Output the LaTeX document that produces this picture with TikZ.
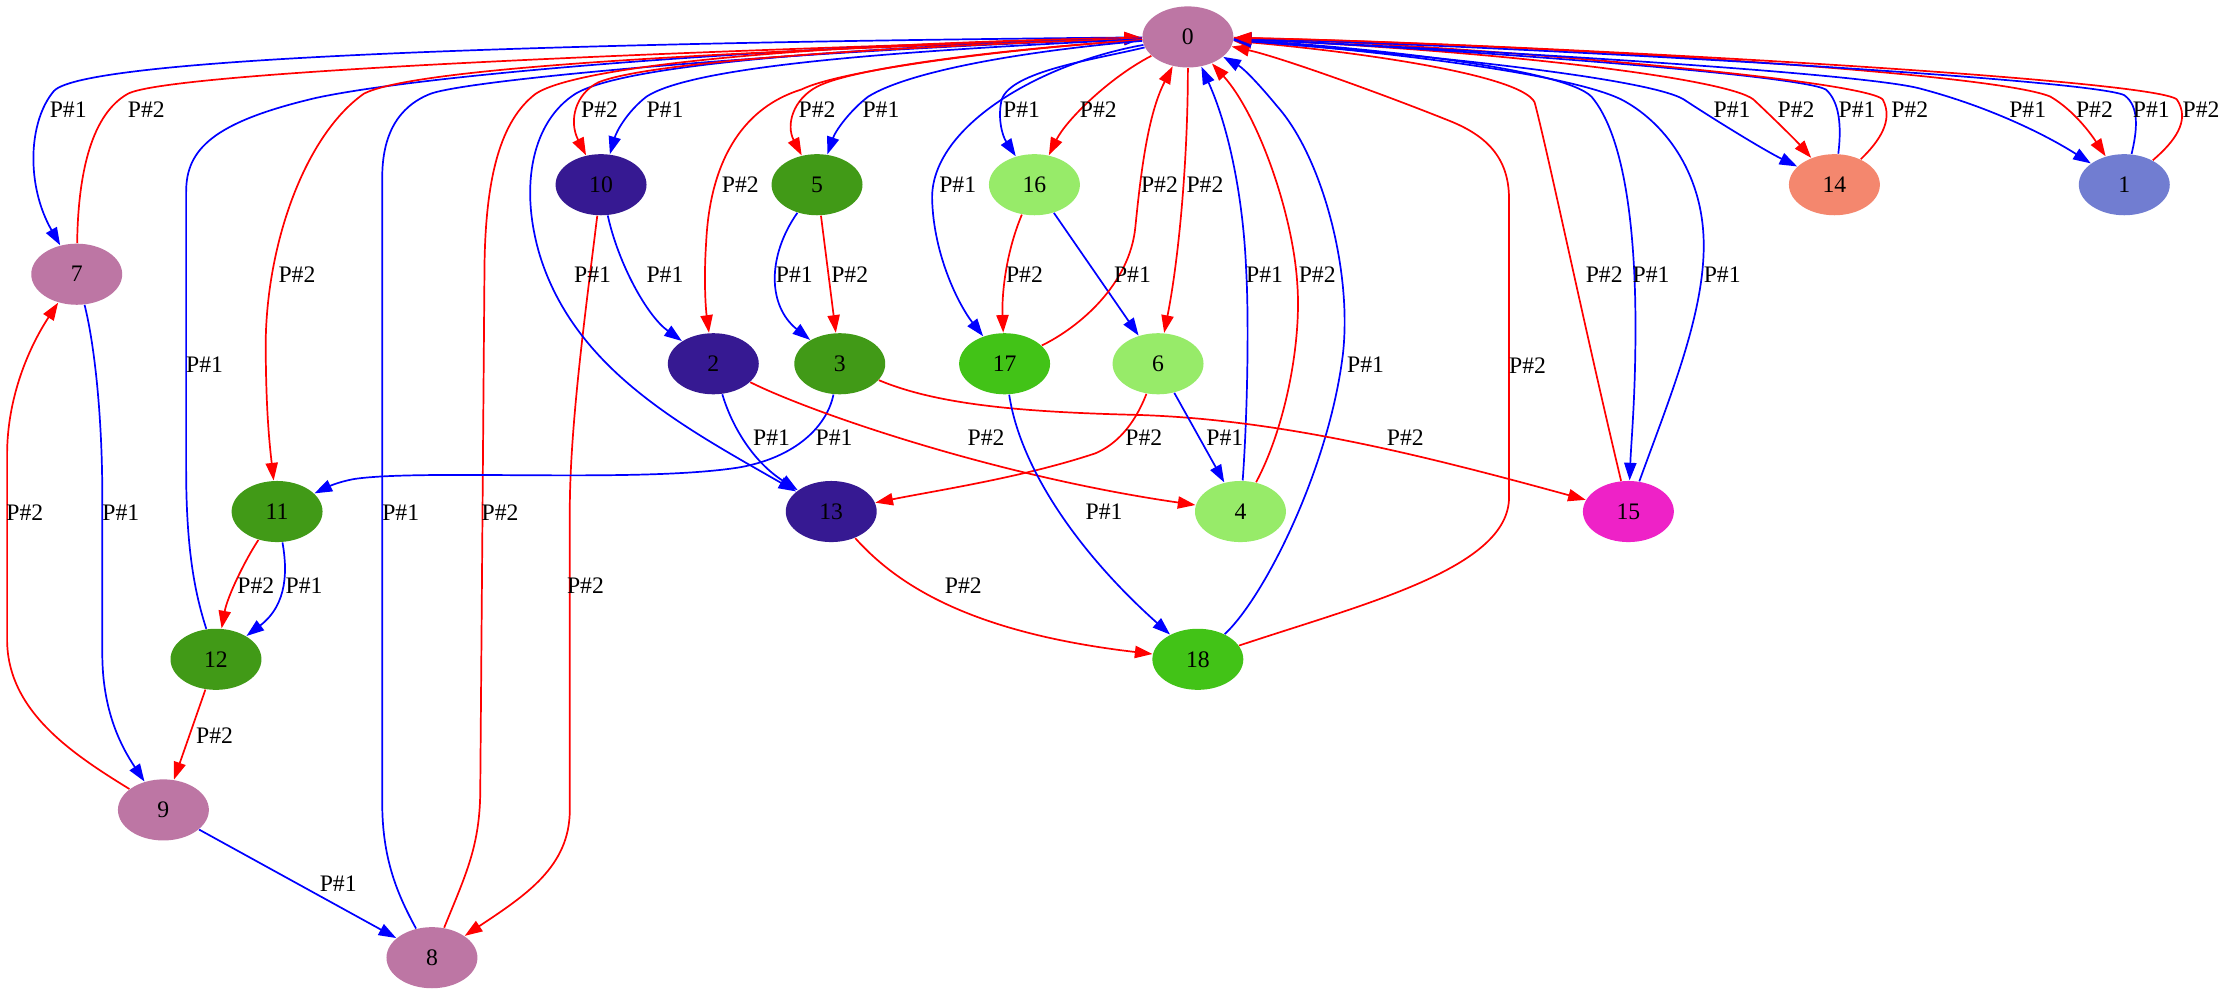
\documentclass[tikz,border=0pt]{standalone}
\usepackage{fontspec}
\setmainfont{Liberation Serif}
\usetikzlibrary{arrows.meta,shapes.geometric}
\definecolor{cmauve}{RGB}{189,118,164}
\definecolor{cindigo}{RGB}{54,25,146}
\definecolor{cgreen}{RGB}{65,154,23}
\definecolor{clight}{RGB}{151,235,105}
\definecolor{cbright}{RGB}{66,195,23}
\definecolor{csalmon}{RGB}{244,135,110}
\definecolor{cperi}{RGB}{113,125,209}
\definecolor{cmagenta}{RGB}{238,34,199}
\tikzset{
  gnode/.style={ellipse, minimum width=32pt, minimum height=21.5pt, inner sep=0pt, font=\fontsize{8.33}{10}\selectfont},
  eb/.style={draw=blue, line width=0.6pt, -{Triangle[length=6.2pt,width=4.3pt]}},
  er/.style={draw=red, line width=0.6pt, -{Triangle[length=6.2pt,width=4.3pt]}},
  lbl/.style={font=\fontsize{8.33}{10}\selectfont, inner sep=0pt},
}
\begin{document}
\begin{tikzpicture}[x=0.5pt,y=-0.5pt]
\fill[white] (0,0) rectangle (1568,699);
\useasboundingbox (0,0) rectangle (1568,699);
% nodes
\node[gnode, fill=cmauve] (n0) at (836,26) {0};
\node[gnode, fill=cmauve] (n7) at (54,193) {7};
\node[gnode, fill=cindigo] (n10) at (423,130) {10};
\node[gnode, fill=cgreen] (n5) at (575,130) {5};
\node[gnode, fill=clight] (n16) at (728,130) {16};
\node[gnode, fill=csalmon] (n14) at (1291,130) {14};
\node[gnode, fill=cperi] (n1) at (1495,130) {1};
\node[gnode, fill=cindigo] (n2) at (502,256) {2};
\node[gnode, fill=cgreen] (n3) at (591,256) {3};
\node[gnode, fill=cbright] (n17) at (707,256) {17};
\node[gnode, fill=clight] (n6) at (815,256) {6};
\node[gnode, fill=cgreen] (n11) at (195,360) {11};
\node[gnode, fill=cindigo] (n13) at (585,360) {13};
\node[gnode, fill=clight] (n4) at (873,360) {4};
\node[gnode, fill=cmagenta] (n15) at (1146,360) {15};
\node[gnode, fill=cgreen] (n12) at (152,464) {12};
\node[gnode, fill=cbright] (n18) at (843,464) {18};
\node[gnode, fill=cmauve] (n9) at (115,570) {9};
\node[gnode, fill=cmauve] (n8) at (304,674) {8};
% edges
\draw[eb] (n0) .. controls (400,30) and (60,40) .. (38,64) .. controls (20,85) and (18,130) .. (n7);
\draw[er] (n7) .. controls (55,120) and (65,80) .. (90,66) .. controls (120,50) and (500,35) .. (n0);
\draw[eb] (n12) .. controls (138,420) and (131,390) .. (131,330) -- (131,135) .. controls (131,105) and (150,86) .. (222,69) .. controls (300,52) and (550,32) .. (n0);
\draw[er] (n0) .. controls (500,36) and (290,48) .. (256,66) .. controls (215,95) and (188,170) .. (187,240) .. controls (187,290) and (190,315) .. (n11);
\draw[eb] (n8) .. controls (280,630) and (269,605) .. (269,565) -- (269,125) .. controls (269,95) and (280,75) .. (303,66) .. controls (330,56) and (550,36) .. (n0);
\draw[er] (n8) .. controls (328,615) and (338,595) .. (338,555) -- (341,185) .. controls (342,125) and (352,85) .. (377,66) .. controls (410,44) and (600,30) .. (n0);
\draw[er] (n10) .. controls (412,220) and (401,300) .. (401,360) -- (401,570) .. controls (401,610) and (370,630) .. (n8);
\draw[eb] (n0) .. controls (600,33) and (440,45) .. (405,66) .. controls (375,85) and (365,130) .. (380,180) .. controls (405,260) and (480,300) .. (n13);
\draw[er] (n0) .. controls (650,32) and (460,42) .. (421,58) .. controls (405,66) and (400,85) .. (n10);
\draw[eb] (n0) .. controls (650,35) and (490,45) .. (455,68) .. controls (442,78) and (434,92) .. (n10);
\draw[eb] (n10) .. controls (435,185) and (455,222) .. (n2);
\draw[er] (n0) .. controls (700,35) and (590,50) .. (564,63) .. controls (525,75) and (500,110) .. (497,170) .. controls (495,200) and (497,220) .. (n2);
\draw[er] (n0) .. controls (700,35) and (600,48) .. (575,61) .. controls (558,70) and (553,88) .. (n5);
\draw[eb] (n0) .. controls (720,36) and (640,50) .. (611,68) .. controls (598,78) and (588,92) .. (n5);
\draw[eb] (n5) .. controls (540,180) and (540,215) .. (n3);
\draw[er] (n5) -- (n3);
\draw[eb] (n0) .. controls (730,45) and (655,90) .. (656,140) .. controls (657,180) and (675,215) .. (n17);
\draw[eb] (n0) .. controls (770,42) and (712,50) .. (705,70) .. controls (702,82) and (705,95) .. (n16);
\draw[er] (n0) .. controls (780,55) and (750,85) .. (n16);
\draw[er] (n16) .. controls (707,180) and (705,210) .. (n17);
\draw[eb] (n16) -- (n6);
\draw[er] (n17) .. controls (760,230) and (795,200) .. (799,160) .. controls (803,120) and (808,80) .. (n0);
\draw[er] (n0) .. controls (836,110) and (830,180) .. (n6);
\draw[eb] (n4) .. controls (878,290) and (879,225) .. (877,190) .. controls (875,140) and (865,90) .. (n0);
\draw[er] (n4) .. controls (905,300) and (916,240) .. (913,200) .. controls (910,150) and (885,80) .. (n0);
\draw[eb] (n18) .. controls (890,420) and (935,330) .. (945,250) .. controls (952,190) and (930,110) .. (899,75) .. controls (885,58) and (875,48) .. (n0);
\draw[er] (n18) .. controls (960,425) and (1062,400) .. (1062,350) -- (1062,140) .. controls (1062,110) and (1045,95) .. (1020,85) .. controls (970,65) and (900,40) .. (n0);
\draw[er] (n15) .. controls (1115,230) and (1090,110) .. (1080,72) .. controls (1070,52) and (950,36) .. (n0);
\draw[eb] (n0) .. controls (960,33) and (1100,48) .. (1120,68) .. controls (1143,95) and (1151,160) .. (1151,230) .. controls (1151,280) and (1148,310) .. (n15);
\draw[eb] (n15) .. controls (1175,280) and (1200,220) .. (1199,170) .. controls (1198,120) and (1170,85) .. (1141,70) .. controls (1100,50) and (950,34) .. (n0);
\draw[eb] (n0) .. controls (1000,38) and (1160,55) .. (1185,70) .. controls (1200,80) and (1240,105) .. (n14);
\draw[er] (n0) .. controls (1050,35) and (1215,55) .. (1234,70) .. controls (1250,85) and (1265,100) .. (n14);
\draw[eb] (n14) .. controls (1296,90) and (1295,72) .. (1285,63) .. controls (1265,52) and (1000,33) .. (n0);
\draw[er] (n14) .. controls (1322,100) and (1333,85) .. (1325,70) .. controls (1310,55) and (1000,30) .. (n0);
\draw[eb] (n0) .. controls (1000,33) and (1300,50) .. (1350,62) .. controls (1400,75) and (1440,95) .. (n1);
\draw[er] (n0) .. controls (1050,30) and (1400,50) .. (1443,68) .. controls (1460,78) and (1472,95) .. (n1);
\draw[eb] (n1) .. controls (1504,92) and (1506,75) .. (1495,67) .. controls (1470,55) and (1050,32) .. (n0);
\draw[er] (n1) .. controls (1530,100) and (1542,85) .. (1532,70) .. controls (1515,55) and (1050,30) .. (n0);
\draw[eb] (n3) .. controls (582,300) and (560,322) .. (520,329) .. controls (450,340) and (300,330) .. (250,337) .. controls (238,339) and (230,343) .. (n11);
\draw[eb] (n2) .. controls (515,300) and (530,325) .. (n13);
\draw[er] (n2) .. controls (570,290) and (700,335) .. (n4);
\draw[er] (n3) .. controls (660,285) and (720,290) .. (800,292) .. controls (900,295) and (1000,320) .. (n15);
\draw[er] (n6) .. controls (798,300) and (785,313) .. (771,319) .. controls (720,336) and (660,345) .. (n13);
\draw[eb] (n6) -- (n4);
\draw[eb] (n17) .. controls (718,330) and (760,390) .. (n18);
\draw[er] (n13) .. controls (630,410) and (680,445) .. (n18);
\draw[er] (n11) .. controls (172,395) and (160,420) .. (n12);
\draw[eb] (n11) .. controls (202,400) and (203,425) .. (n12);
\draw[er] (n12) -- (n9);
\draw[eb] (n7) .. controls (66,240) and (72,290) .. (72,350) -- (72,460) .. controls (72,500) and (85,525) .. (n9);
\draw[er] (n9) .. controls (50,530) and (5,500) .. (5,450) -- (5,320) .. controls (5,280) and (20,245) .. (n7);
\draw[eb] (n9) -- (n8);
% labels
\node[lbl] (l1) at (48,77) {P\#1};
\node[lbl] (l2) at (103,77) {P\#2};
\node[lbl] (l3) at (422,77) {P\#2};
\node[lbl] (l4) at (468,77) {P\#1};
\node[lbl] (l5) at (575,77) {P\#2};
\node[lbl] (l6) at (620,77) {P\#1};
\node[lbl] (l7) at (719,77) {P\#1};
\node[lbl] (l8) at (773,77) {P\#2};
\node[lbl] (l9) at (1219,77) {P\#1};
\node[lbl] (l10) at (1264,77) {P\#2};
\node[lbl] (l11) at (1307,77) {P\#1};
\node[lbl] (l12) at (1344,77) {P\#2};
\node[lbl] (l13) at (1427,77) {P\#1};
\node[lbl] (l14) at (1474,77) {P\#2};
\node[lbl] (l15) at (1514,77) {P\#1};
\node[lbl] (l16) at (1549,77) {P\#2};
\node[lbl] (l17) at (521,130) {P\#2};
\node[lbl] (l18) at (674,130) {P\#1};
\node[lbl] (l19) at (816,130) {P\#2};
\node[lbl] (l20) at (848,130) {P\#2};
\node[lbl] (l21) at (209,193.5) {P\#2};
\node[lbl] (l22) at (417,193.5) {P\#1};
\node[lbl] (l23) at (468,193.5) {P\#1};
\node[lbl] (l24) at (559,193.5) {P\#1};
\node[lbl] (l25) at (598,193.5) {P\#2};
\node[lbl] (l26) at (721,193.5) {P\#2};
\node[lbl] (l27) at (797,193.5) {P\#1};
\node[lbl] (l28) at (890,193.5) {P\#1};
\node[lbl] (l29) at (927,193.5) {P\#2};
\node[lbl] (l30) at (1129,193.5) {P\#2};
\node[lbl] (l31) at (1162,193.5) {P\#1};
\node[lbl] (l32) at (1212,193.5) {P\#1};
\node[lbl] (l33) at (144,257) {P\#1};
\node[lbl] (l34) at (961,257) {P\#1};
\node[lbl] (l35) at (1075,257) {P\#2};
\node[lbl] (l36) at (543,308) {P\#1};
\node[lbl] (l37) at (587,308) {P\#1};
\node[lbl] (l38) at (694,308) {P\#2};
\node[lbl] (l39) at (805,308) {P\#2};
\node[lbl] (l40) at (862,308) {P\#1};
\node[lbl] (l41) at (989,308) {P\#2};
\node[lbl] (l42) at (17.5,361) {P\#2};
\node[lbl] (l43) at (85,361) {P\#1};
\node[lbl] (l44) at (282,361) {P\#1};
\node[lbl] (l45) at (352,361) {P\#2};
\node[lbl] (l46) at (777,360) {P\#1};
\node[lbl] (l47) at (180,412) {P\#2};
\node[lbl] (l48) at (214,412) {P\#1};
\node[lbl] (l49) at (412,412) {P\#2};
\node[lbl] (l50) at (678,412) {P\#2};
\node[lbl] (l51) at (151,518) {P\#2};
\node[lbl] (l52) at (238,622) {P\#1};
\end{tikzpicture}
\end{document}
